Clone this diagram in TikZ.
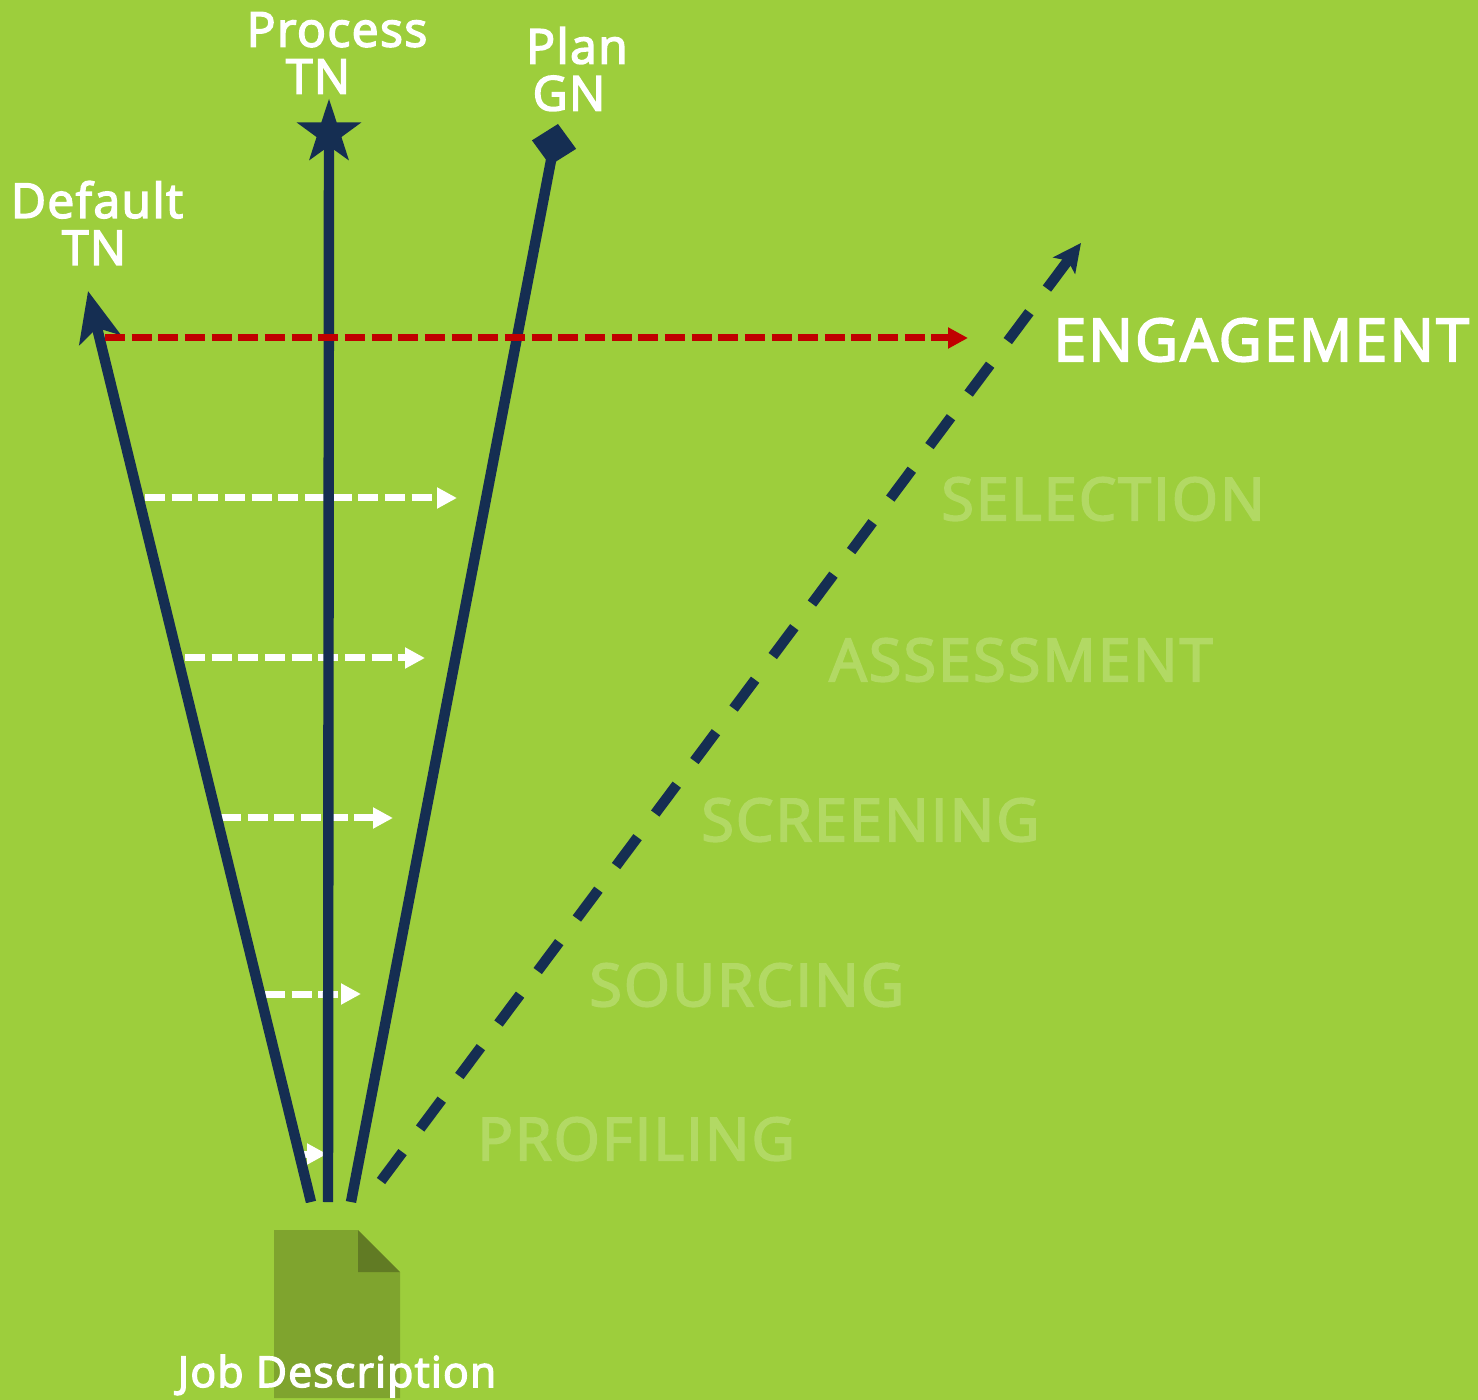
\documentclass[tikz,border=0pt]{standalone}
\usepackage{fontspec}
\setmainfont{Open Sans}
\newfontfamily\semifont{Open Sans}[FakeBold=3.2,LetterSpace=3]
\newfontfamily\stagefont{Open Sans}[FakeBold=3.2,LetterSpace=3.8]
\usepackage{xcolor}
\usetikzlibrary{arrows.meta,shapes.geometric}
\definecolor{grassbg}{HTML}{9DCE3C}
\definecolor{docbody}{HTML}{7FA42E}
\definecolor{docfold}{HTML}{617B24}
\definecolor{navyline}{HTML}{152E52}
\definecolor{redline}{HTML}{C00000}
\definecolor{fadetext}{HTML}{B2D964}
\tikzset{
	stagelabel/.style={font=\stagefont\fontsize{29.5}{30}\selectfont,text=fadetext,inner sep=0pt},
	headlabel/.style={font=\semifont\fontsize{24}{23.5}\selectfont,text=white,align=center,inner sep=0pt},
	funnelline/.style={draw=navyline,line width=5.2pt},
	stagearrow/.style={draw=white,line width=3.5pt,dash pattern=on 10pt off 3.33pt,-{Triangle[length=10pt,width=10pt,fill=white]}},
}
\begin{document}
\begin{tikzpicture}[x=0.5pt,y=-0.5pt]
			\useasboundingbox (0,0) rectangle (1478,1400);
			\fill[grassbg] (0,0) rectangle (1478,1400);
			% job description sheet
			\fill[docbody] (274,1230) -- (358,1230) -- (400,1272) -- (400,1398) -- (274,1398) -- cycle;
			\fill[docfold] (358,1230) -- (400,1272) -- (358,1272) -- cycle;
			\coordinate (rootdefault) at (311,1202);
			\coordinate (rootprocess) at (328,1202);
			\coordinate (rootplan) at (351,1202);
			\coordinate (rootengage) at (381,1181);
			\coordinate (tipdefault) at (88,291);
			\coordinate (tipplan) at (558,124);
			\coordinate (tipengage) at (1081,243);
			\node[star,star points=5,star point ratio=2.6,fill=navyline,inner sep=0pt,minimum size=34pt] (starprocess) at (329,133) {};
			% stage arrows
			\foreach \name/\ya/\xa/\xb in {selection/498/145/457,assessment/658/185/425,screening/818/221/393,sourcing/994/265/361,profiling/1154/302/327}{
				\coordinate (\name a) at (\xa,\ya);
				\coordinate (\name b) at (\xb,\ya);
				\draw[stagearrow] (\name a) -- (\name b);
			}
			% main lines, cut flat at the bottom
			\begin{scope}
				\clip (0,0) rectangle (1478,1202);
				\draw[funnelline,-{Stealth[length=25pt,width=21pt,inset=6pt]}] (rootdefault) -- (tipdefault);
				\draw[funnelline] (rootprocess) -- (starprocess.center);
				\draw[funnelline,-{Turned Square[length=21pt,width=22.5pt]}] (rootplan) -- (tipplan);
			\end{scope}
			\draw[draw=navyline,line width=5.2pt,dash pattern=on 18pt off 14.75pt,-{Stealth[length=14pt,width=13.5pt,inset=3pt]}] (rootengage) -- (tipengage);
			\coordinate (reda) at (105,338);
			\coordinate (redb) at (968,338);
			\draw[draw=redline,line width=3.5pt,dash pattern=on 10pt off 3.33pt,-{Triangle[length=10pt,width=10pt]}] (reda) -- (redb);
			% labels
			\node[headlabel] (lbldefault) at (97,223) {Default\\TN\hspace*{3pt}};
			\node[headlabel] (lblprocess) at (337,53) {Process\\TN\hspace*{19pt}};
			\node[headlabel] (lblplan) at (577,69) {Plan\\GN\hspace*{8pt}};
			\node[headlabel,font=\semifont\fontsize{21.3}{23.5}\selectfont] (lbljob) at (337,1376) {Job Description};
			\node[stagelabel,text=white,anchor=west] (lblengage) at (1053,340) {ENGAGEMENT};
			\node[stagelabel,anchor=west] (lblselection) at (941,499) {SELECTION};
			\node[stagelabel,anchor=west] (lblassessment) at (829,660) {ASSESSMENT};
			\node[stagelabel,anchor=west] (lblscreening) at (701,820) {SCREENING};
			\node[stagelabel,anchor=west] (lblsourcing) at (589,985) {SOURCING};
			\node[stagelabel,anchor=west] (lblprofiling) at (477,1139) {PROFILING};
			\end{tikzpicture}
\end{document}
